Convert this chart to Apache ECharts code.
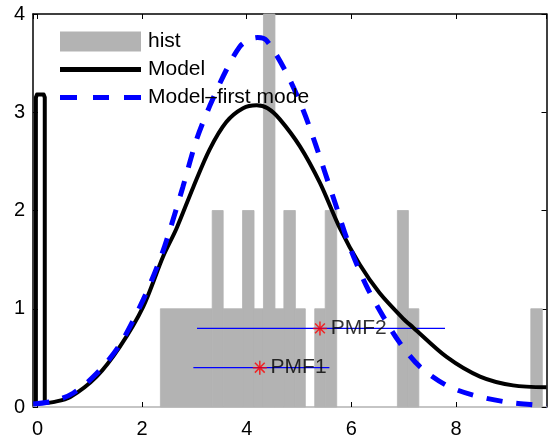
<!DOCTYPE html>
<html>
<head>
<meta charset="utf-8">
<script src="https://cdn.jsdelivr.net/npm/echarts@6/dist/echarts.min.js"></script>
<style>
  html, body { margin: 0; padding: 0; background: #fff; }
  #chart { width: 549px; height: 448px; }
</style>
</head>
<body>
<div id="chart"></div>
<script>
// histogram bins (left edge, right edge, height)
const histLeft  = [2.35, 3.34, 3.55, 3.92, 4.14, 4.32, 4.54, 4.71, 4.93, 5.30, 5.50, 6.88, 7.09, 9.43];
const histRight = [3.34, 3.55, 3.92, 4.14, 4.32, 4.54, 4.71, 4.93, 5.12, 5.50, 5.72, 7.09, 7.29, 9.65];
const histCount = [1, 2, 1, 2, 1, 4, 1, 2, 1, 1, 2, 2, 1, 1];

// Model: narrow spike at zero
const spikeX = [-0.03, -0.03, -0.01, 0.12, 0.14, 0.14];
const spikeY = [0.03, 3.15, 3.18, 3.18, 3.15, 0.04];

// Model: main curve
const modelX = [0.14, 0.3, 0.62, 1.13, 1.57, 2.02, 2.40, 2.66, 2.98, 3.29, 3.61, 3.93, 4.19, 4.40, 4.63,
                5.02, 5.40, 5.78, 6.16, 6.54, 6.99, 7.18, 7.82, 8.46, 9.09, 9.73];
const modelY = [0.04, 0.05, 0.10, 0.31, 0.61, 1.02, 1.53, 1.82, 2.24, 2.62, 2.90, 3.04, 3.07, 3.04, 2.93,
                2.65, 2.28, 1.82, 1.45, 1.16, 0.90, 0.81, 0.51, 0.31, 0.22, 0.20];

// Model without first mode
const firstX = [-0.08, 0.3, 0.68, 1.13, 1.57, 2.02, 2.34, 2.53, 2.78, 3.04, 3.29, 3.61, 3.87, 4.05, 4.21,
                4.38, 4.76, 5.08, 5.33, 5.65, 5.97, 6.29, 6.61, 6.93, 7.31, 7.82, 8.33, 8.97, 9.54, 9.73];
const firstY = [0.03, 0.06, 0.14, 0.34, 0.63, 1.09, 1.50, 1.80, 2.24, 2.72, 3.06, 3.43, 3.67, 3.74, 3.76,
                3.73, 3.40, 3.02, 2.65, 2.14, 1.63, 1.23, 0.92, 0.65, 0.41, 0.22, 0.12, 0.05, 0.02, 0.01];

// PMF estimates with horizontal ranges
const pmfNames = ['PMF1', 'PMF2'];
const pmfX  = [4.25, 5.40];
const pmfY  = [0.40, 0.80];
const pmfLo = [2.98, 3.05];
const pmfHi = [5.58, 7.79];

const xTicks = [0, 2, 4, 6, 8];

const zip = (a, b) => a.map((v, i) => [v, b[i]]);
const FONT = '"Liberation Sans", Arial, sans-serif';

const chart = echarts.init(document.getElementById('chart'));

function axisStyle(lineColor) {
  return {
    axisLine: { show: true, onZero: false, lineStyle: { color: lineColor, width: 1.5 } },
    axisTick: { show: true, inside: true, length: 5, lineStyle: { color: '#000', width: 1 } },
    splitLine: { show: false }
  };
}

chart.setOption({
  animation: false,
  backgroundColor: '#fff',
  grid: { left: 33, right: 2.5, top: 14, bottom: 41, containLabel: false },
  legend: {
    orient: 'vertical',
    left: 60,
    top: 31,
    padding: 0,
    itemWidth: 81,
    itemHeight: 20,
    itemGap: 7,
    symbolKeepAspect: true,
    textStyle: { fontFamily: FONT, fontSize: 21, color: '#000', lineHeight: 20, padding: [0, 0, 0, 2] },
    data: [
      { name: 'hist', icon: 'rect', itemStyle: { color: '#b3b3b3' } },
      { name: 'Model', icon: 'path://M0,0H81V5H0Z', itemStyle: { color: '#000' } },
      { name: 'Model–first mode', icon: 'path://M0,0H17V5H0ZM33,0H49V5H33ZM64,0H81V5H64Z',
        itemStyle: { color: '#0000ff' } }
    ]
  },
  xAxis: [
    Object.assign({
      type: 'value', min: -0.085, max: 9.73, position: 'bottom',
      axisLabel: {
        fontFamily: FONT, fontSize: 20, color: '#000', margin: 12,
        showMinLabel: false, showMaxLabel: false,
        formatter: v => xTicks.includes(v) ? String(v) : ''
      }
    }, axisStyle('#b3b3b3')),
    Object.assign({
      type: 'value', min: -0.085, max: 9.73, position: 'top', axisLabel: { show: false }
    }, axisStyle('#000'))
  ],
  yAxis: [
    Object.assign({
      type: 'value', min: 0, max: 4, interval: 1, position: 'left',
      axisLabel: { fontFamily: FONT, fontSize: 20, color: '#000', margin: 8 }
    }, axisStyle('#000')),
    Object.assign({
      type: 'value', min: 0, max: 4, interval: 1, position: 'right', axisLabel: { show: false }
    }, axisStyle('#000'))
  ],
  series: [
    {
      name: 'hist',
      type: 'custom',
      itemStyle: { color: '#b3b3b3' },
      encode: { x: [0, 1], y: 2 },
      data: histLeft.map((l, i) => [l, histRight[i], histCount[i]]),
      renderItem: function (params, api) {
        const p0 = api.coord([api.value(0), api.value(2)]);
        const p1 = api.coord([api.value(1), 0]);
        return {
          type: 'rect',
          shape: { x: p0[0], y: p0[1], width: p1[0] - p0[0], height: p1[1] - p0[1] },
          style: { fill: '#b3b3b3', stroke: '#b3b3b3', lineWidth: 0.8 }
        };
      }
    },
    {
      name: 'Model',
      type: 'line',
      symbol: 'none',
      data: zip(spikeX, spikeY),
      itemStyle: { color: '#000' },
      lineStyle: { color: '#000', width: 4, join: 'round' }
    },
    {
      name: 'Model',
      type: 'line',
      symbol: 'none',
      smooth: 0.3,
      data: zip(modelX, modelY),
      itemStyle: { color: '#000' },
      lineStyle: { color: '#000', width: 4 }
    },
    {
      name: 'Model–first mode',
      type: 'line',
      symbol: 'none',
      smooth: 0.3,
      data: zip(firstX, firstY),
      itemStyle: { color: '#0000ff' },
      lineStyle: { color: '#0000ff', width: 5, type: [16, 14], cap: 'butt' }
    },
    {
      name: 'range',
      type: 'custom',
      data: pmfLo.map((l, i) => [l, pmfHi[i], pmfY[i]]),
      encode: { x: [0, 1], y: 2 },
      renderItem: function (params, api) {
        const a = api.coord([api.value(0), api.value(2)]);
        const b = api.coord([api.value(1), api.value(2)]);
        return {
          type: 'line',
          shape: { x1: a[0], y1: a[1], x2: b[0], y2: b[1] },
          style: { stroke: '#0000ff', lineWidth: 1.2 }
        };
      }
    },
    {
      name: 'pmf',
      type: 'scatter',
      symbol: 'path://M5,0L5,10M0,5L10,5M1.5,1.5L8.5,8.5M8.5,1.5L1.5,8.5',
      symbolSize: 14,
      itemStyle: { color: 'rgba(0,0,0,0)', borderColor: '#ff0000', borderWidth: 1.5 },
      data: pmfX.map((x, i) => ({ value: [x, pmfY[i]], name: pmfNames[i] })),
      label: {
        show: true, position: 'right', distance: 3,
        formatter: p => p.name,
        fontFamily: FONT, fontSize: 21, color: '#000'
      }
    }
  ]
});
</script>
</body>
</html>
